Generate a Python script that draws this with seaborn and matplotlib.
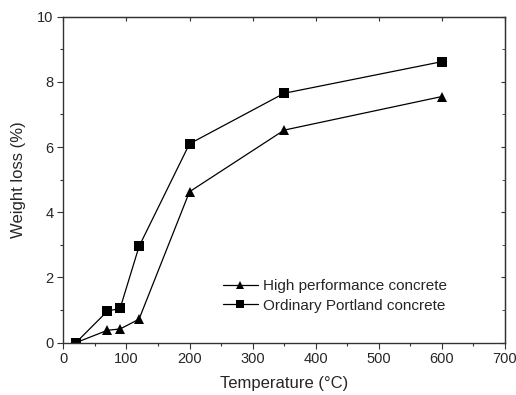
import matplotlib
matplotlib.use("Agg")
import matplotlib.pyplot as plt
import seaborn as sns
import pandas as pd
from matplotlib.ticker import MultipleLocator

temperature = [20, 70, 90, 120, 200, 350, 600]
hpc_loss = [0.0, 0.38, 0.42, 0.72, 4.63, 6.52, 7.55]
opc_loss = [0.0, 0.97, 1.05, 2.95, 6.10, 7.65, 8.62]
series_names = ["High performance concrete", "Ordinary Portland concrete"]

df = pd.DataFrame({
    "Temperature": temperature * 2,
    "Loss": hpc_loss + opc_loss,
    "Series": [series_names[0]] * len(temperature) + [series_names[1]] * len(temperature),
})

sns.set_style("white")
plt.rcParams["font.family"] = ["Liberation Sans", "DejaVu Sans"]

fig = plt.figure(figsize=(5.16, 3.95), dpi=100)
ax = fig.add_axes([0.1227, 0.1325, 0.8560, 0.8253])

sns.lineplot(data=df, x="Temperature", y="Loss", hue="Series", style="Series",
             markers={series_names[0]: "^", series_names[1]: "s"}, dashes=False,
             palette={series_names[0]: "black", series_names[1]: "black"},
             linewidth=0.9, markersize=7, markeredgewidth=0, ax=ax)

ax.set_xlim(0, 700)
ax.set_ylim(0, 10)
ax.xaxis.set_major_locator(MultipleLocator(100))
ax.xaxis.set_minor_locator(MultipleLocator(50))
ax.yaxis.set_major_locator(MultipleLocator(2))
ax.yaxis.set_minor_locator(MultipleLocator(1))
ax.tick_params(axis="both", which="major", direction="out", length=4, width=0.8,
               labelsize=10.5, color="#333333", pad=3)
ax.tick_params(axis="both", which="minor", direction="out", length=2.5, width=0.8, color="#333333")
ax.tick_params(axis="both", which="both", bottom=True, left=True)

for s in ax.spines.values():
    s.set_color("#333333")
    s.set_linewidth(1.0)

# top/right inward ticks
secx = ax.secondary_xaxis("top")
secx.xaxis.set_major_locator(MultipleLocator(100))
secx.tick_params(direction="in", length=3, labeltop=False, color="#333333")
secx.set_xticklabels([])
secy = ax.secondary_yaxis("right")
secy.yaxis.set_major_locator(MultipleLocator(2))
secy.yaxis.set_minor_locator(MultipleLocator(1))
secy.tick_params(which="major", direction="in", length=3, labelright=False, color="#333333")
secy.tick_params(which="minor", direction="in", length=2, color="#333333")
secy.set_yticklabels([])

ax.set_xlabel("Temperature (°C)", fontsize=12, labelpad=7)
ax.set_ylabel("Weight loss (%)", fontsize=12, labelpad=8)

leg = ax.legend(title=None, loc="lower left", bbox_to_anchor=(0.33, 0.05), frameon=False,
                fontsize=11, handlelength=2.3, handletextpad=0.3, labelspacing=0.35)
for h in leg.legend_handles:
    h.set_markersize(6)

fig.savefig("out.png", dpi=100)
